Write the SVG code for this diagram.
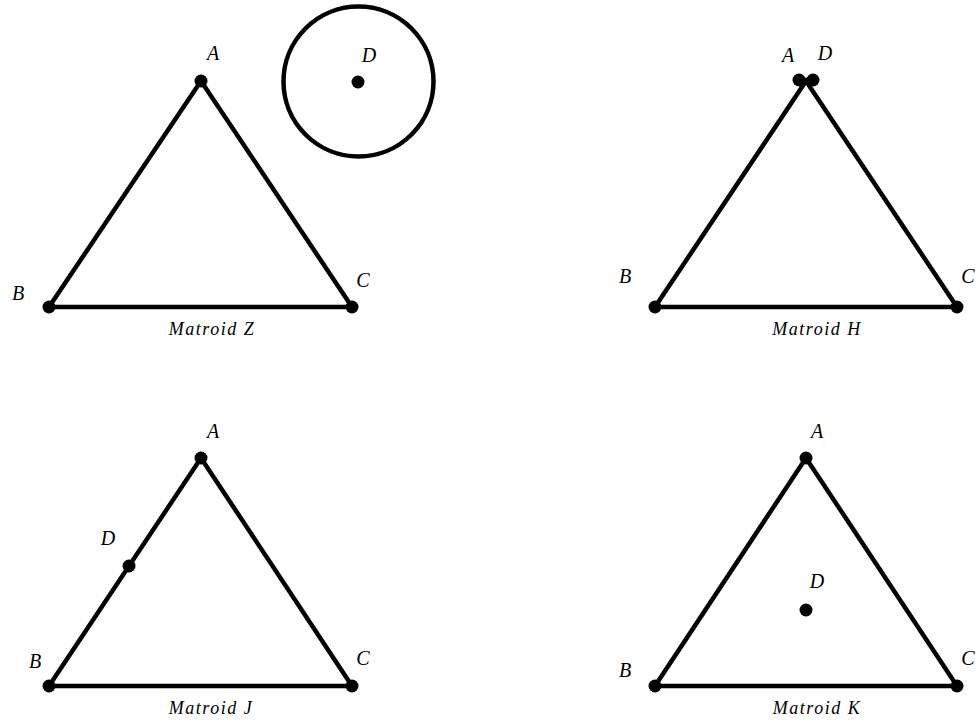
<svg xmlns="http://www.w3.org/2000/svg" width="977" height="724" viewBox="0 0 977 724">
<style>
.e{stroke:#000;stroke-width:4.5;fill:none;stroke-linecap:round}
.p{fill:#000}
.l{font-family:"Liberation Serif","DejaVu Serif","Times New Roman",serif;font-style:italic;font-size:20px;fill:#000;text-anchor:middle}
.t{font-family:"Liberation Serif","DejaVu Serif","Times New Roman",serif;font-style:italic;font-size:18px;fill:#000;text-anchor:middle;letter-spacing:1.5px}
</style>
<rect width="977" height="724" fill="#fff"/>
<g id="connectors">
<path class="e" d="M201 81 L49 307 L352 307 Z"/>
<circle class="e" cx="358.5" cy="81.5" r="75"/>
<path class="e" d="M806 81 L655 307 L957 307 Z"/>
<path class="e" d="M201 458 L49 686 L352 686 Z"/>
<path class="e" d="M806 458 L655 686 L957 686 Z"/>
</g>
<g id="matroidZ">
<g id="Z-A"><circle class="p" cx="201" cy="81" r="6.5"/><text class="l" x="213" y="60">A</text></g>
<g id="Z-B"><circle class="p" cx="49" cy="307" r="6.5"/><text class="l" x="18" y="300">B</text></g>
<g id="Z-C"><circle class="p" cx="352" cy="307" r="6.5"/><text class="l" x="363" y="287">C</text></g>
<g id="Z-D"><circle class="p" cx="358" cy="82" r="6.5"/><text class="l" x="369" y="62">D</text></g>
<text class="t" x="212" y="335">Matroid Z</text>
</g>
<g id="matroidH">
<g id="H-A"><circle class="p" cx="799" cy="80" r="6.5"/><text class="l" x="788" y="62">A</text></g>
<g id="H-D"><circle class="p" cx="813" cy="80" r="6.5"/><text class="l" x="825" y="60">D</text></g>
<g id="H-B"><circle class="p" cx="655" cy="307" r="6.5"/><text class="l" x="625" y="283">B</text></g>
<g id="H-C"><circle class="p" cx="957" cy="307" r="6.5"/><text class="l" x="968" y="283">C</text></g>
<text class="t" x="817" y="335">Matroid H</text>
</g>
<g id="matroidJ">
<g id="J-A"><circle class="p" cx="201" cy="458" r="6.5"/><text class="l" x="213" y="438">A</text></g>
<g id="J-D"><circle class="p" cx="129" cy="566" r="6.5"/><text class="l" x="108" y="545">D</text></g>
<g id="J-B"><circle class="p" cx="49" cy="686" r="6.5"/><text class="l" x="35" y="668">B</text></g>
<g id="J-C"><circle class="p" cx="352" cy="686" r="6.5"/><text class="l" x="363" y="665">C</text></g>
<text class="t" x="211" y="714">Matroid J</text>
</g>
<g id="matroidK">
<g id="K-A"><circle class="p" cx="806" cy="458" r="6.5"/><text class="l" x="817" y="438">A</text></g>
<g id="K-D"><circle class="p" cx="806" cy="610" r="6.5"/><text class="l" x="817" y="588">D</text></g>
<g id="K-B"><circle class="p" cx="655" cy="686" r="6.5"/><text class="l" x="625" y="677">B</text></g>
<g id="K-C"><circle class="p" cx="957" cy="686" r="6.5"/><text class="l" x="968" y="665">C</text></g>
<text class="t" x="817" y="714">Matroid K</text>
</g>
</svg>
